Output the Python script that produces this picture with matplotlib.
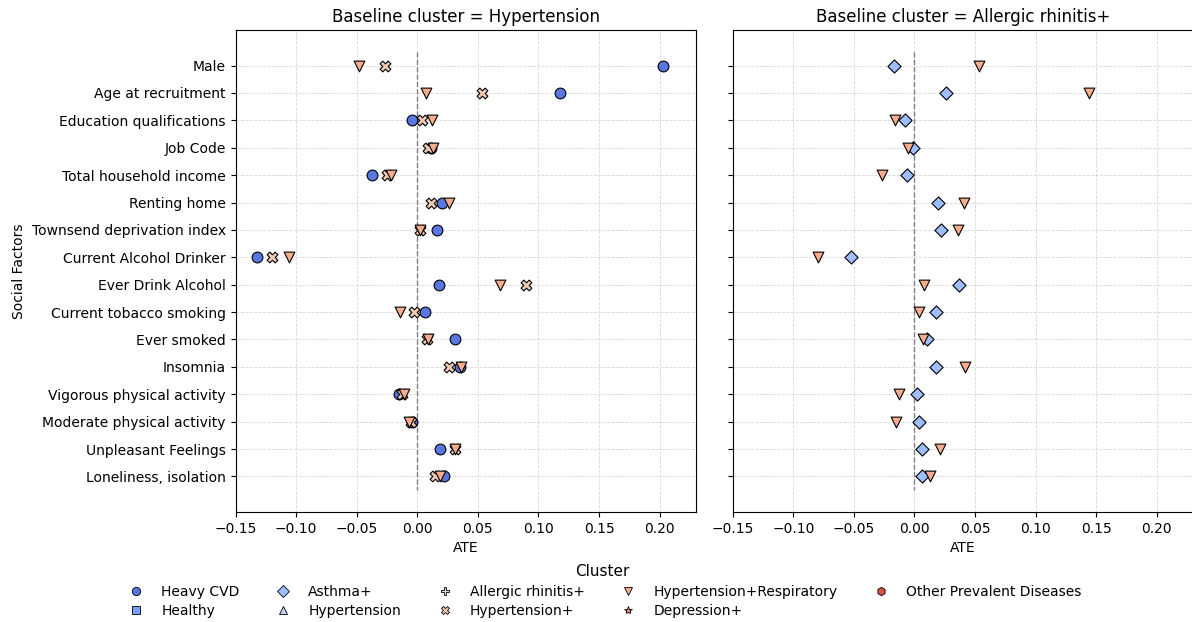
import matplotlib.pyplot as plt
import numpy as np
from matplotlib.lines import Line2D

factors = ["Male", "Age at recruitment", "Education qualifications", "Job Code",
           "Total household income", "Renting home", "Townsend deprivation index",
           "Current Alcohol Drinker", "Ever Drink Alcohol", "Current tobacco smoking",
           "Ever smoked", "Insomnia", "Vigorous physical activity",
           "Moderate physical activity", "Unpleasant Feelings", "Loneliness, isolation"]

clusters = ["Heavy CVD", "Healthy", "Asthma+", "Hypertension", "Allergic rhinitis+",
            "Hypertension+", "Hypertension+Respiratory", "Depression+",
            "Other Prevalent Diseases"]
markers = ["o", "s", "D", "^", "P", "X", "v", "*", "h"]

# baseline = Hypertension
hyp_heavy_cvd = [0.203, 0.118, -0.004, 0.011, -0.037, 0.020, 0.016, -0.132,
                 0.018, 0.006, 0.031, 0.035, -0.015, -0.004, 0.019, 0.022]
hyp_hypertension_plus = [-0.027, 0.053, 0.004, 0.009, -0.025, 0.011, 0.002, -0.120,
                         0.090, -0.003, 0.008, 0.026, -0.013, -0.005, 0.031, 0.015]
hyp_hyp_resp = [-0.048, 0.007, 0.012, 0.013, -0.022, 0.026, 0.002, -0.106,
                0.068, -0.014, 0.009, 0.036, -0.011, -0.007, 0.031, 0.019]

# baseline = Allergic rhinitis+
ar_asthma = [-0.017, 0.026, -0.008, -0.001, -0.006, 0.019, 0.022, -0.052,
             0.037, 0.018, 0.010, 0.018, 0.002, 0.004, 0.006, 0.006]
ar_hyp_resp = [0.053, 0.144, -0.016, -0.005, -0.027, 0.041, 0.036, -0.080,
               0.008, 0.004, 0.007, 0.042, -0.013, -0.015, 0.021, 0.013]

panels = [
    ("Hypertension", [("Heavy CVD", hyp_heavy_cvd),
                      ("Hypertension+", hyp_hypertension_plus),
                      ("Hypertension+Respiratory", hyp_hyp_resp)]),
    ("Allergic rhinitis+", [("Asthma+", ar_asthma),
                            ("Hypertension+Respiratory", ar_hyp_resp)]),
]

colors = plt.get_cmap("coolwarm")(np.linspace(0.1, 0.9, len(clusters)))
sizes = {"D": 45}

fig = plt.figure(figsize=(11.92, 6.22), dpi=100)
ax1 = fig.add_axes([0.1976, 0.1768, 0.3863, 0.775])
ax2 = fig.add_axes([0.6147, 0.1768, 0.3863, 0.775], sharey=ax1, sharex=ax1)

y = np.arange(len(factors))
for ax, (baseline, series) in zip([ax1, ax2], panels):
    ax.grid(True, linestyle="--", color="lightgray", linewidth=0.6, alpha=0.9)
    ax.set_axisbelow(True)
    for name, vals in series:
        i = clusters.index(name)
        ax.scatter(vals, y, marker=markers[i], color=colors[i], edgecolor="black",
                   linewidth=0.8, s=sizes.get(markers[i], 60), zorder=3)
    ax.vlines(0, -0.5, len(factors) - 0.5, colors="gray", linestyles="--", linewidth=1, zorder=2)
    ax.set_title(f"Baseline cluster = {baseline}", fontsize=12)
    ax.set_xlabel("ATE")

ax1.set_yticks(y)
ax1.set_yticklabels(factors)
ax1.set_ylim(len(factors) - 0.5 + 0.8, -1.3)
ax1.set_xlim(-0.15, 0.23)
ax1.set_xticks(np.arange(-0.15, 0.21, 0.05))
ax1.set_ylabel("Social Factors")
ax2.tick_params(labelleft=False)

handles = [Line2D([], [], linestyle="", marker=m, markerfacecolor=c, markeredgecolor="black",
                  markeredgewidth=0.6, markersize=6) for m, c in zip(markers, colors)]
fig.legend(handles, clusters, title="Cluster", loc="lower center", ncol=5,
           frameon=False, bbox_to_anchor=(0.505, -0.014), title_fontsize=11,
           handletextpad=0.8, columnspacing=2.15, labelspacing=0.4)

plt.savefig("out.png", dpi=100)
